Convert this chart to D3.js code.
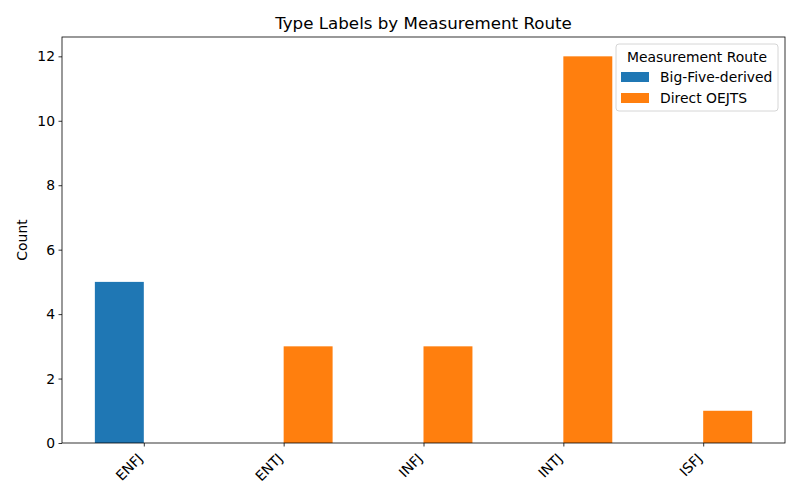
<!DOCTYPE html>
<html>
<head>
<meta charset="utf-8">
<script src="https://cdn.jsdelivr.net/npm/d3@7"></script>
<style>
  body { margin: 0; background: #fff; }
  text { font-family: "DejaVu Sans", sans-serif; }
</style>
</head>
<body>
<svg id="chart" width="800" height="500"></svg>
<script>
// type labels on the x axis
const types = ['ENFJ', 'ENTJ', 'INFJ', 'INTJ', 'ISFJ'];
const routes = ['Big-Five-derived', 'Direct OEJTS'];
const bigFiveCounts = [5, 0, 0, 0, 0];
const oejtsCounts = [0, 3, 3, 12, 1];
const yTicks = [0, 2, 4, 6, 8, 10, 12];
const colors = ['#1f77b4', '#ff7f0e'];

const margin = { top: 37, right: 15, bottom: 57, left: 62 };
const width = 800 - margin.left - margin.right;
const height = 500 - margin.top - margin.bottom;
const barW = 0.35;
const fs = 13.9;

const svg = d3.select('#chart');
const g = svg.append('g').attr('transform', `translate(${margin.left},${margin.top})`);

// linear x like matplotlib, with 5% margins around the bar extents
const xMin = -barW, xMax = types.length - 1 + barW;
const pad = (xMax - xMin) * 0.05;
const x = d3.scaleLinear().domain([xMin - pad, xMax + pad]).range([0, width]);
const y = d3.scaleLinear().domain([0, 12.6]).range([height, 0]);

const series = [bigFiveCounts, oejtsCounts];
series.forEach((vals, si) => {
  const offset = si === 0 ? -barW / 2 : barW / 2;
  g.append('g').selectAll('rect')
    .data(vals)
    .join('rect')
    .attr('x', (d, i) => x(i + offset - barW / 2))
    .attr('width', x(barW) - x(0))
    .attr('y', d => y(d))
    .attr('height', d => y(0) - y(d))
    .attr('fill', colors[si]);
});

// axes
const xAxis = d3.axisBottom(x)
  .tickValues(d3.range(types.length))
  .tickFormat(i => types[i])
  .tickSizeOuter(0)
  .tickSize(3.5)
  .tickPadding(3);
const xg = g.append('g').attr('transform', `translate(0,${height})`).call(xAxis);
xg.selectAll('text')
  .attr('font-size', fs)
  .attr('fill', '#000')
  .attr('text-anchor', 'end')
  .attr('y', 0)
  .attr('dy', '0.35em')
  .attr('transform', 'translate(-4,13) rotate(-45)');

const yAxis = d3.axisLeft(y).tickValues(yTicks).tickSizeOuter(0).tickSize(3.5).tickPadding(3.5);
const yg = g.append('g').call(yAxis);
yg.selectAll('text').attr('font-size', fs).attr('fill', '#000');

[xg, yg].forEach(a => {
  a.select('.domain').remove();
  a.selectAll('line').attr('stroke', '#000').attr('stroke-width', 0.8);
});

// frame
g.append('rect')
  .attr('width', width).attr('height', height)
  .attr('fill', 'none').attr('stroke', '#000').attr('stroke-width', 0.8);

// title + y label
svg.append('text')
  .attr('x', margin.left + width / 2).attr('y', 29)
  .attr('text-anchor', 'middle').attr('font-size', 16.7)
  .text('Type Labels by Measurement Route');

svg.append('text')
  .attr('transform', `translate(27,${margin.top + height / 2}) rotate(-90)`)
  .attr('text-anchor', 'middle').attr('font-size', fs)
  .text('Count');

// legend
const lg = svg.append('g').attr('transform', 'translate(616,44)');
lg.append('rect')
  .attr('width', 162).attr('height', 67).attr('rx', 3)
  .attr('fill', '#fff').attr('fill-opacity', 0.8)
  .attr('stroke', '#ccc').attr('stroke-width', 0.8);
lg.append('text')
  .attr('x', 81).attr('y', 18).attr('text-anchor', 'middle')
  .attr('font-size', fs).text('Measurement Route');
routes.forEach((r, i) => {
  const row = lg.append('g').attr('transform', `translate(5,${28 + i * 21})`);
  row.append('rect').attr('width', 28).attr('height', 10).attr('fill', colors[i]);
  row.append('text').attr('x', 39).attr('y', 10).attr('font-size', fs).text(r);
});
</script>
</body>
</html>
